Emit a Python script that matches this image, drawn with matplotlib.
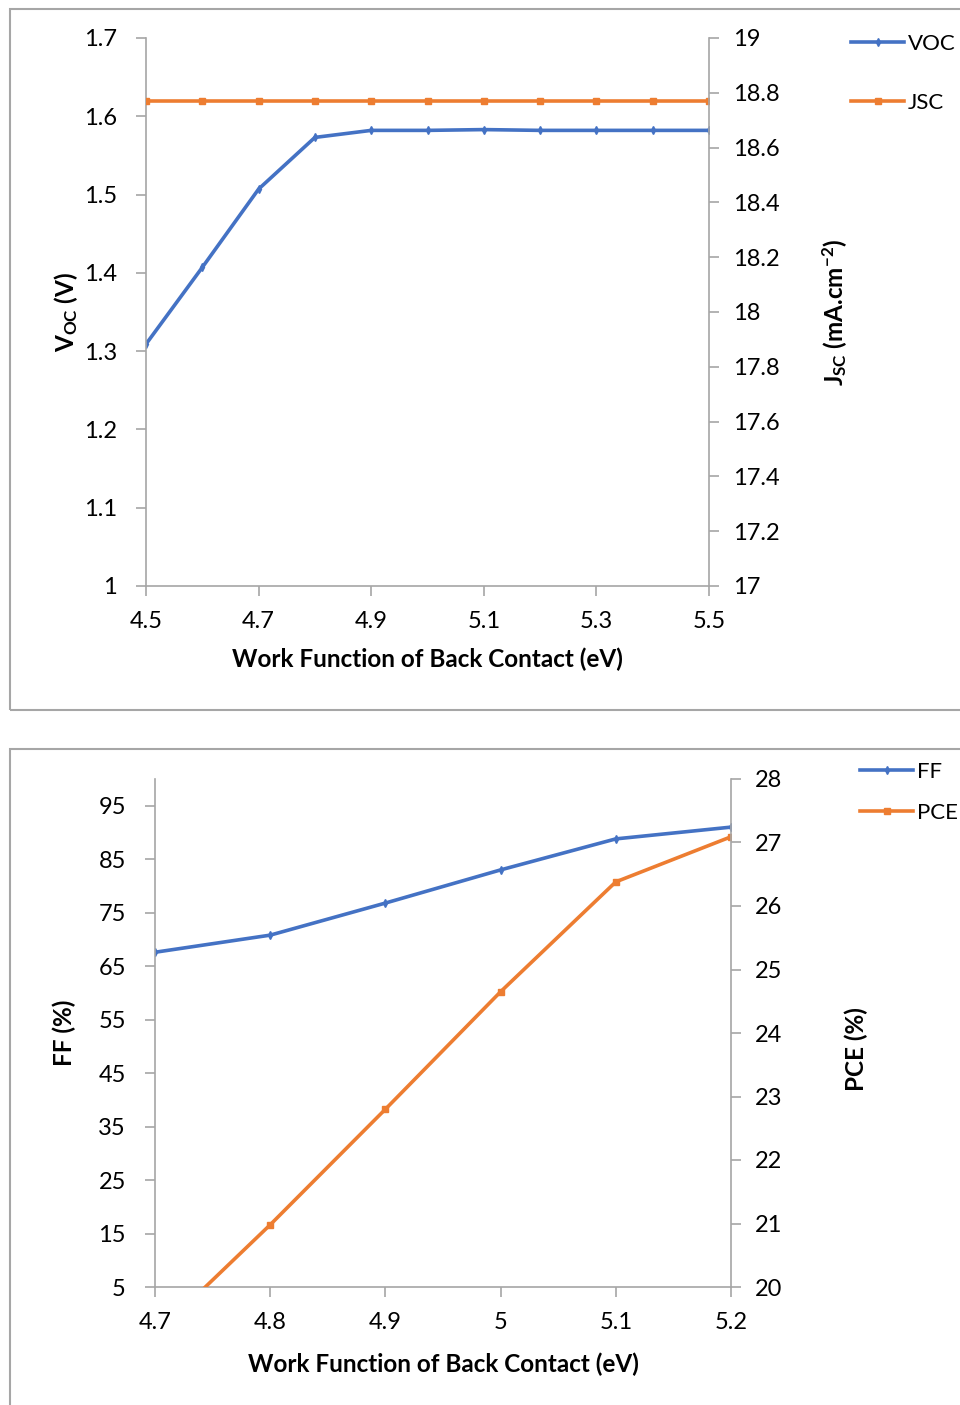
import matplotlib
matplotlib.use('Agg')
import matplotlib.pyplot as plt
from matplotlib.lines import Line2D
from matplotlib.patches import Rectangle
from matplotlib.ticker import FormatStrFormatter, FuncFormatter

plt.rcParams['font.family'] = ['Lato', 'DejaVu Sans']
plt.rcParams['mathtext.fontset'] = 'custom'
plt.rcParams['mathtext.rm'] = 'Lato'
plt.rcParams['mathtext.bf'] = 'Lato:bold'
plt.rcParams['mathtext.it'] = 'Lato:italic'

# Datos panel superior
wf_top = [4.5, 4.6, 4.7, 4.8, 4.9, 5.0, 5.1, 5.2, 5.3, 5.4, 5.5]
voc = [1.309, 1.407, 1.507, 1.573, 1.582, 1.582, 1.583, 1.582, 1.582, 1.582, 1.582]
jsc = [18.77, 18.77, 18.77, 18.77, 18.77, 18.77, 18.77, 18.77, 18.77, 18.77, 18.77]

# Datos panel inferior
wf_bot = [4.7, 4.8, 4.9, 5.0, 5.1, 5.2]
ff = [67.6, 70.8, 76.8, 83.0, 88.8, 91.0]
pce = [19.24, 20.98, 22.80, 24.65, 26.38, 27.09]

azul = '#4472C4'
naranja = '#ED7D31'
gris = '#A6A6A6'
fs = 17        # etiquetas de ticks
fs_leg = 16    # leyenda
fs_lab = 17.5  # titulos de ejes

fig = plt.figure(figsize=(9.6, 14.05), dpi=100)

# Marcos de cada grafico
fig.patches.append(Rectangle((10 / 960, 1 - 710 / 1405), 1.0, 701 / 1405,
                             transform=fig.transFigure, fill=False,
                             edgecolor=gris, lw=1.5))
fig.patches.append(Rectangle((10 / 960, -0.05), 1.0, 0.05 + (1405 - 749) / 1405,
                             transform=fig.transFigure, fill=False,
                             edgecolor=gris, lw=1.5))


def estilo(ax, ax2):
    for a in (ax, ax2):
        a.spines['top'].set_visible(False)
        for s in ('left', 'right', 'bottom'):
            a.spines[s].set_color(gris)
            a.spines[s].set_linewidth(1.2)
        a.tick_params(colors=gris, labelcolor='black', labelsize=fs,
                      length=7, width=1.2, direction='out')
    ax.spines['right'].set_visible(False)
    ax2.spines['left'].set_visible(False)
    ax2.spines['bottom'].set_visible(False)


def leyenda(handles, labels, x_px, y_px, spacing):
    fig.legend(handles, labels, loc='upper left',
               bbox_to_anchor=(x_px / 960, 1 - y_px / 1405),
               frameon=False, fontsize=fs_leg, handlelength=2.4, handletextpad=0.15,
               labelspacing=spacing, borderaxespad=0, borderpad=0)


# ---- Panel superior ----
ax1 = fig.add_axes([146 / 960, 1 - 586 / 1405, 563 / 960, 548 / 1405])
ax1b = ax1.twinx()
ax1.plot(wf_top, voc, '-', color=azul, lw=2.6, marker='d', ms=4)
ax1b.plot(wf_top, jsc, '-', color=naranja, lw=2.6, marker='s', ms=5)
ax1.set_xlim(4.5, 5.5)
ax1.set_ylim(1, 1.7)
ax1b.set_ylim(17, 19)
ax1.set_xticks([4.5, 4.7, 4.9, 5.1, 5.3, 5.5])
ax1.set_yticks([1, 1.1, 1.2, 1.3, 1.4, 1.5, 1.6, 1.7])
ax1b.set_yticks([17, 17.2, 17.4, 17.6, 17.8, 18, 18.2, 18.4, 18.6, 18.8, 19])
ax1.yaxis.set_major_formatter(FuncFormatter(lambda v, p: '%g' % round(v, 2)))
ax1b.yaxis.set_major_formatter(FuncFormatter(lambda v, p: '%g' % round(v, 2)))
ax1.xaxis.set_major_formatter(FormatStrFormatter('%.1f'))
estilo(ax1, ax1b)
ax1.tick_params(axis='x', pad=11)
ax1.tick_params(axis='y', pad=14)
ax1b.tick_params(axis='y', pad=10)
ax1.set_xlabel('Work Function of Back Contact (eV)', fontsize=fs_lab, fontweight='bold', labelpad=11)
ax1.set_ylabel(r'$\mathbf{V_{OC}}$ (V)', fontsize=fs_lab, fontweight='bold')
ax1.yaxis.set_label_coords(-0.117, 0.5)
ax1b.set_ylabel(r'$\mathbf{J_{SC}}$ (mA.cm$^{\mathbf{-2}}$)', fontsize=fs_lab, fontweight='bold')
ax1b.yaxis.set_label_coords(1.197, 0.5)

h1 = [Line2D([], [], color=azul, lw=2.6, marker='d', ms=4),
      Line2D([], [], color=naranja, lw=2.6, marker='s', ms=5)]
leyenda(h1, ['VOC', 'JSC'], 851, 34, 1.75)

# ---- Panel inferior ----
ax2 = fig.add_axes([155 / 960, 1 - 1287 / 1405, 576 / 960, 508 / 1405])
ax2b = ax2.twinx()
ax2.plot(wf_bot, ff, '-', color=azul, lw=2.6, marker='d', ms=4)
ax2b.plot(wf_bot, pce, '-', color=naranja, lw=2.6, marker='s', ms=5)
ax2.set_xlim(4.7, 5.2)
ax2.set_ylim(5, 100)
ax2b.set_ylim(20, 28)
ax2.set_xticks(wf_bot)
ax2.set_yticks([5, 15, 25, 35, 45, 55, 65, 75, 85, 95])
ax2b.set_yticks([20, 21, 22, 23, 24, 25, 26, 27, 28])
ax2.xaxis.set_major_formatter(FuncFormatter(lambda v, p: '%g' % round(v, 2)))
estilo(ax2, ax2b)
ax2.tick_params(axis='x', pad=11)
ax2.tick_params(axis='y', pad=14)
ax2b.tick_params(axis='y', pad=10)
ax2.set_xlabel('Work Function of Back Contact (eV)', fontsize=fs_lab, fontweight='bold', labelpad=14)
ax2.set_ylabel('FF (%)', fontsize=fs_lab, fontweight='bold')
ax2.yaxis.set_label_coords(-0.137, 0.5)
ax2b.set_ylabel('PCE (%)', fontsize=fs_lab, fontweight='bold')
ax2b.yaxis.set_label_coords(1.197, 0.468)

h2 = [Line2D([], [], color=azul, lw=2.6, marker='d', ms=4),
      Line2D([], [], color=naranja, lw=2.6, marker='s', ms=5)]
leyenda(h2, ['FF', 'PCE'], 860, 762, 0.95)

fig.savefig('out.png', dpi=100)
